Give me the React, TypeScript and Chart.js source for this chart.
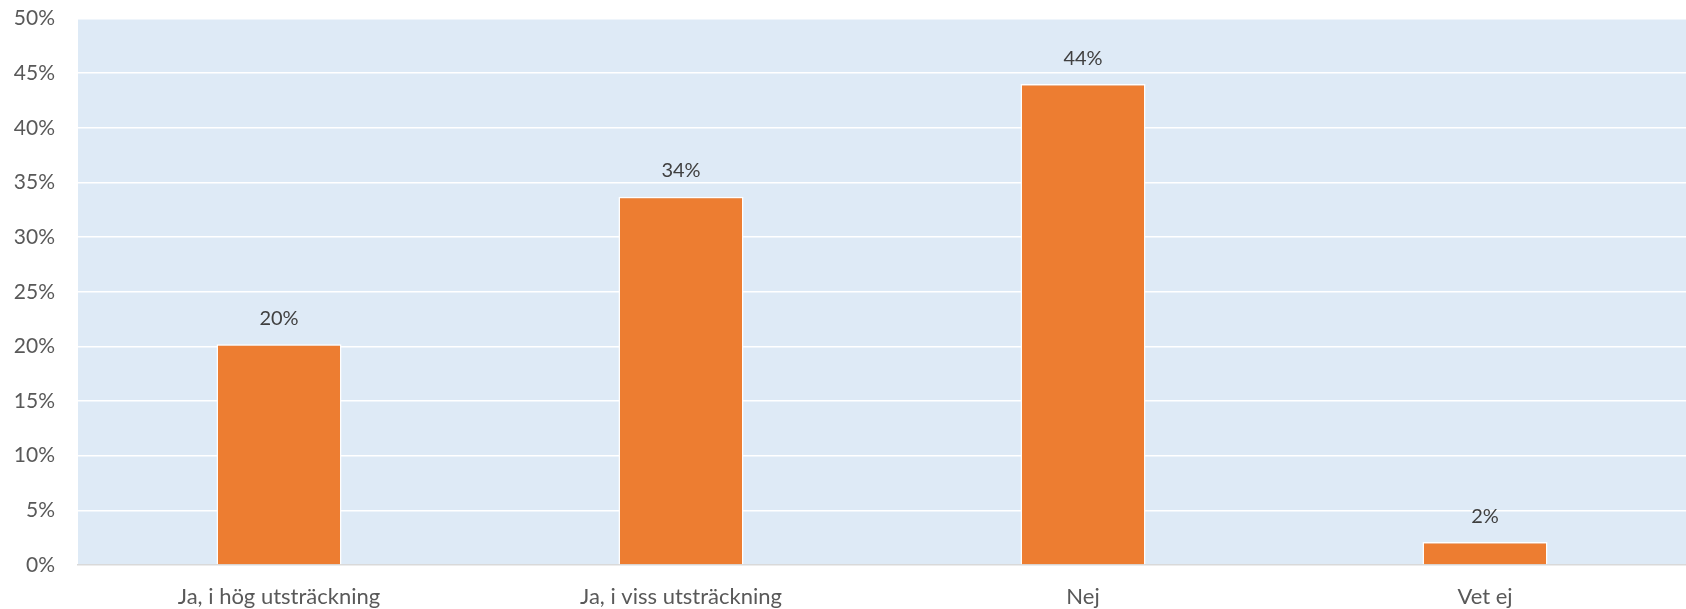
import React, { useEffect, useRef } from "react";
import { Chart, registerables } from "chart.js";

Chart.register(...registerables);

const categories = ["Ja, i hög utsträckning", "Ja, i viss utsträckning", "Nej", "Vet ej"];
const values = [20.2, 33.7, 44.0, 2.1];
const valueLabels = ["20%", "34%", "44%", "2%"];
const yTicks = [0, 5, 10, 15, 20, 25, 30, 35, 40, 45, 50];

const FONT = "Lato, 'Liberation Sans', sans-serif";

const bgPlugin = {
  id: "plotBg",
  beforeDraw(chart: any) {
    const { ctx, chartArea } = chart;
    ctx.save();
    ctx.fillStyle = "#DEEAF6";
    ctx.fillRect(chartArea.left, chartArea.top, chartArea.right - chartArea.left, chartArea.bottom - chartArea.top);
    ctx.restore();
  },
};

const labelPlugin = {
  id: "valueLabels",
  afterDatasetsDraw(chart: any) {
    const { ctx } = chart;
    const meta = chart.getDatasetMeta(0);
    ctx.save();
    ctx.font = `20px ${FONT}`;
    ctx.fillStyle = "#404040";
    ctx.textAlign = "center";
    ctx.textBaseline = "middle";
    meta.data.forEach((bar: any, i: number) => {
      ctx.fillText(valueLabels[i], bar.x, bar.y - 26);
    });
    ctx.restore();
  },
};

export default function App() {
  const ref = useRef<HTMLCanvasElement | null>(null);
  useEffect(() => {
    if (!ref.current) return;
    const chart = new Chart(ref.current, {
      type: "bar",
      data: {
        labels: categories,
        datasets: [
          {
            data: values,
            backgroundColor: "#ED7D31",
            borderColor: "#FFFFFF",
            borderWidth: 1.5,
            categoryPercentage: 1,
            barPercentage: 0.311,
          },
        ],
      },
      options: {
        animation: false,
        responsive: false,
        maintainAspectRatio: false,
        layout: { padding: { top: 18.5, right: 0, left: 0, bottom: 0 } },
        plugins: { legend: { display: false }, tooltip: { enabled: false } },
        scales: {
          x: {
            grid: { display: false, drawTicks: false },
            border: { display: true, color: "#D9D9D9", width: 1.5 },
            ticks: { color: "#595959", font: { family: FONT, size: 22 }, padding: 19, maxRotation: 0 },
            afterFit(scale: any) {
              scale.height = 44;
              scale.paddingLeft = 0;
              scale.paddingRight = 0;
            },
          },
          y: {
            min: 0,
            max: 50,
            afterBuildTicks(scale: any) {
              scale.ticks = yTicks.map((v) => ({ value: v }));
            },
            grid: { color: "#FFFFFF", lineWidth: 1.5, drawTicks: false },
            border: { display: false },
            ticks: {
              color: "#595959",
              font: { family: FONT, size: 21 },
              padding: 23,
              callback: (v: any) => `${v}%`,
            },
            afterFit(scale: any) {
              scale.width = 78;
              scale.paddingTop = 0;
              scale.paddingBottom = 0;
            },
          },
        },
      },
      plugins: [bgPlugin, labelPlugin],
    });
    return () => chart.destroy();
  }, []);
  return (
    <div style={{ position: "fixed", left: 0, top: 0, width: 1686, height: 609, background: "#fff" }}>
      <canvas ref={ref} width={1686} height={609} />
    </div>
  );
}
